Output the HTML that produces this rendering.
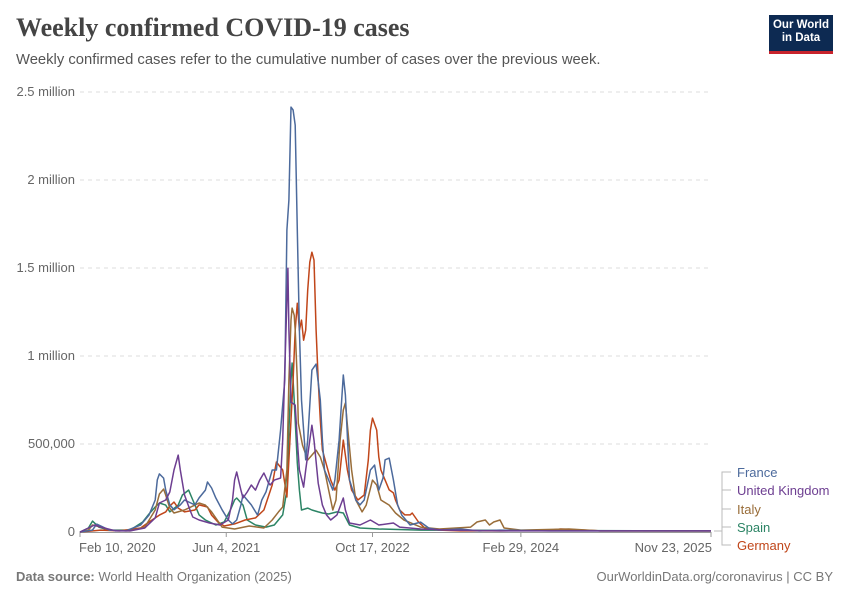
<!DOCTYPE html>
<html><head><meta charset="utf-8"><style>
body{margin:0;background:#fff;font-family:"Liberation Sans",sans-serif;}
#wrap{position:relative;width:850px;height:600px;overflow:hidden;}
.t{position:absolute;white-space:nowrap;}
</style></head><body>
<div id="wrap">
<div class="t" style="left:16px;top:13px;font-family:'Liberation Serif',serif;font-size:26px;font-weight:bold;color:#444;">Weekly confirmed COVID-19 cases</div>
<div class="t" style="left:16px;top:52px;font-size:14.8px;color:#555;">Weekly confirmed cases refer to the cumulative number of cases over the previous week.</div>
<div style="position:absolute;left:769px;top:15px;width:64px;background:#0d2a52;border-bottom:3px solid #c8232c;color:#fff;font-size:11.5px;font-weight:bold;text-align:center;line-height:13px;padding-top:4px;box-sizing:content-box;height:32px;">Our World<br>in Data</div>
<div class="t" style="left:16px;top:569px;font-size:13px;color:#777;"><b>Data source:</b> World Health Organization (2025)</div>
<div class="t" style="right:17px;top:569px;font-size:13px;color:#777;">OurWorldinData.org/coronavirus | CC BY</div>
<svg id="svg" width="850" height="600" style="position:absolute;left:0;top:0"></svg>
</div>
<script>
const yTicks=[0,500000,1000000,1500000,2000000,2500000];
const yTickLabels=["0","500,000","1 million","1.5 million","2 million","2.5 million"];
const xTickWeeks=[0,70,140,211,302];
const xTickLabels=["Feb 10, 2020","Jun 4, 2021","Oct 17, 2022","Feb 29, 2024","Nov 23, 2025"];
const seriesNames=["France","United Kingdom","Italy","Spain","Germany"];
const seriesColors=["#4c6a9c","#6d3e91","#996d39","#2c8465","#c0461a"];
const franceWeeks=[0,6,8,10,14,22,29,33,36,37,38,40,41,43,45,48,50,55,57,60,61,63,65,68,71,73,75,77,78,80,82,85,87,89,92,94,96,98,99,100,101,102,103,104,105,106,108,109,111,113,115,116,117,119,121,122,124,126,127,129,132,134,136,139,141,143,145,146,148,150,152,154,158,163,167,172,182,191,201,225,302];
const franceK=[0,11,45,34,11,6,40,96,182,296,330,306,238,154,126,154,182,154,194,238,284,250,194,126,68,46,68,154,210,182,154,96,182,228,352,352,580,864,1716,1886,2414,2398,2312,1716,1148,750,410,522,920,954,750,522,352,296,238,296,522,892,778,296,182,154,182,352,380,238,306,410,420,296,154,96,40,56,22,11,17,6,11,6,6];
const ukWeeks=[0,4,7,10,17,24,31,36,38,41,43,45,47,48,50,53,54,57,62,67,71,73,74,75,77,78,80,82,84,86,88,90,91,93,96,97,98,99,99.5,100,101,103,104,105,107,108,110,111,112,114,116,118,120,123,126,127,129,134,139,143,150,153,163,177,201,302];
const ukK=[0,23,40,28,6,6,23,80,165,182,227,352,437,352,210,114,85,68,51,40,68,182,295,341,238,193,227,267,238,295,335,284,267,295,307,522,920,1317,1499,1147,738,721,522,352,255,352,522,607,522,278,153,97,68,97,193,125,51,40,68,40,51,28,17,11,6,6];
const italyWeeks=[0,4,6,10,14,24,31,36,38,40,41,43,45,50,55,57,60,63,68,74,81,88,92,95,97,99,100,101,101.5,102.5,103,104,104.5,106.5,109,111,113,115,117,121,122.5,124.5,126,127,128,130,132,135,137,140,142,144,148,151,155,163,172,187,190,194,196,198,201,203,211,234,249,302];
const italyK=[0,11,40,28,11,6,28,125,216,244,210,136,108,125,153,165,153,114,28,17,34,23,68,114,142,352,863,1204,1272,1232,1147,863,619,494,409,437,465,426,352,125,182,522,693,733,607,352,182,114,153,295,267,182,153,108,68,28,17,28,57,68,40,57,68,23,11,17,6,6];
const spainWeeks=[0,4,6,9,14,24,30,33,36,38,41,43,47,49,52,54,57,60,65,69,72,74,75,78,80,84,89,93,97,99,100,101,101.5,102.5,104,105,106,109,111,114,116,119,123,126,129,134,143,163,302];
const spainK=[0,23,62,28,11,11,57,102,142,165,153,114,153,210,238,182,97,68,40,57,125,182,193,153,68,40,28,40,97,238,579,863,960,750,392,238,125,136,125,114,108,102,114,108,40,23,17,11,6];
const germanyWeeks=[0,10,19,29,33,38,41,43,45,47,50,55,57,61,63,66,69,74,79,84,88,92,94,97,99,100,102,103,104,105,106,107,108,109,110,111,112,113,114,115,116,118,120,122,124,126,128,130,133,136,138,139,140,142,143,144,146,148,150,151,153,155.5,158,159,162,165,172,182,201,225,230,249,302];
const germanyK=[0,11,6,23,57,96,114,148,170,136,114,125,154,142,96,57,34,46,68,80,125,267,398,352,199,409,863,1147,1300,1147,1204,1090,1147,1374,1533,1590,1545,1147,863,636,466,381,295,238,295,522,352,238,182,210,409,579,647,579,426,352,295,239,222,182,125,97,97,108,57,23,11,6,6,11,17,6,6];
const allWeeks=[franceWeeks,ukWeeks,italyWeeks,spainWeeks,germanyWeeks];
const allVals=[franceK,ukK,italyK,spainK,germanyK];
const NS="http://www.w3.org/2000/svg";
const svg=document.getElementById('svg');
const X0=80,X1=711,Y0=532,Y1=92;
function xs(w){return X0+(w/302)*(X1-X0);}
function ys(v){return Y0-(v/2500000)*(Y0-Y1);}
function mk(tag,attrs){const e=document.createElementNS(NS,tag);for(const k in attrs)e.setAttribute(k,attrs[k]);svg.appendChild(e);return e;}
yTicks.forEach((v,i)=>{
  const y=ys(v);
  if(i>0){const g=mk('line',{x1:80,x2:711,y1:y,y2:y,stroke:'#ddd','stroke-dasharray':'4,4'});
  
  }
  const t=mk('text',{x:75,y:y+4,'text-anchor':'end','font-size':13,fill:'#666','font-family':'Liberation Sans, sans-serif'});
  t.textContent=yTickLabels[i];
  
  
});
const ax=mk('line',{x1:80,x2:711,y1:532.5,y2:532.5,stroke:'#999'});


xTickWeeks.forEach((w,i)=>{
  const x=xs(w);
  const tk=mk('line',{x1:x,x2:x,y1:532,y2:537,stroke:'#999'});
  
  
  const t=mk('text',{x:x,y:552,'text-anchor':i==0?'start':(i==4?'end':'middle'),'font-size':13,fill:'#666','font-family':'Liberation Sans, sans-serif'});
  if(i==0)t.setAttribute('x',x-1);
  if(i==4)t.setAttribute('x',x+1);
  t.textContent=xTickLabels[i];
  
  
});
const order=[3,4,2,0,1];
order.forEach(s=>{
  const pts=allWeeks[s].map((w,i)=>xs(w).toFixed(1)+','+ys(allVals[s][i]*1000).toFixed(1)).join(' ');
  const p=mk('polyline',{points:pts,fill:'none',stroke:seriesColors[s],'stroke-width':1.5,'stroke-linejoin':'round'});
  
  
});
const legY=[472,490,509,527,545];
seriesNames.forEach((n,i)=>{
  const yEnd=ys(allVals[i][allVals[i].length-1]*1000);
  const c=mk('polyline',{points:`714,${yEnd} 722,${yEnd} 722,${legY[i]} 731,${legY[i]}`,fill:'none',stroke:'#bbb','stroke-width':1});
  
  
  const t=mk('text',{x:737,y:legY[i]+5,'font-size':13,fill:seriesColors[i],'font-family':'Liberation Sans, sans-serif'});
  t.textContent=n;
  
  
});
</script>
</body></html>
